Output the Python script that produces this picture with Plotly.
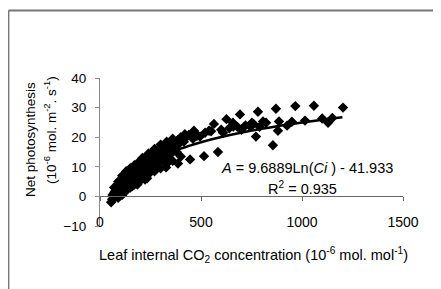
import plotly.graph_objects as go

# Observed data (Ci, A)
ci_obs = [55, 60, 62, 65, 68, 70, 72, 75, 78, 80, 82, 85, 88, 90, 92, 95, 98, 100, 103, 105,
          108, 110, 113, 115, 118, 120, 123, 125, 128, 130, 133, 135, 138, 140, 143, 145, 148, 150,
          153, 155, 158, 160, 163, 165, 168, 170, 173, 175, 178, 180, 183, 185, 188, 190, 193, 195,
          198, 200, 205, 210, 215, 218, 222, 226, 230, 235, 240, 245, 250, 255, 260, 265, 270, 275,
          280, 285, 290, 295, 300, 305, 310, 320, 325, 330, 335, 345, 350, 355, 365, 375, 385, 395,
          405, 415, 425, 440, 460, 470, 480,
          782, 871, 967, 1059, 1203, 693, 626, 564, 856, 772, 822, 886, 881, 926, 1015, 1129, 743,
          658, 752, 807, 540, 465, 431, 386, 356, 584, 515, 446, 609, 660, 495, 386, 327, 233, 302,
          272, 223, 520, 550, 600, 640, 680, 720, 760, 700, 790, 950, 1100, 1150,
          70, 90, 110, 130, 150, 170, 190, 210, 240, 270, 300, 330, 360, 400, 420,
          90, 110, 130, 150, 170, 190, 210, 240, 270, 300, 330, 360, 400,
          120, 160, 200, 250, 280, 315, 345, 380,
          140, 180, 225, 260, 290, 340, 370, 100, 135, 185]
a_obs = [-2, -1, 0.5, 0, 1, -0.5, 1.5, 0.5, 2, 1, 0, 2.5, 1.5, 3, 2, 1, 3.5, 2.5, 4, 3,
         1.5, 4.5, 3.5, 5, 4, 2.5, 5.5, 4.5, 6, 5, 3.5, 6.5, 5.5, 7, 6, 4.5, 7.5, 6.5,
         8, 7, 5, 8.5, 7.5, 9, 8, 6, 9.5, 8.5, 10, 9, 7, 10.5, 9.5, 11, 10, 8,
         11.5, 10.5, 12, 11, 9, 12.5, 11.5, 13, 12, 10, 13.5, 12.5, 14, 13, 11, 14.5, 13.5, 15,
         14, 12, 15.5, 14.5, 16, 15, 13, 16.5, 15.5, 17, 16, 14, 17.5, 16.5, 18, 17, 19, 18,
         19.5, 18.5, 20.5, 20.8, 19.5, 21.5, 20.5,
         28.6, 29.6, 30.5, 30.6, 30.0, 27.7, 26.1, 24.5, 17.3, 20.2, 24.9, 25.3, 22.2, 23.9, 25.6, 24.9, 23.6,
         24.9, 24.9, 25.3, 22.2, 22.2, 20.2, 18.9, 16.5, 15.0, 13.6, 12.5, 21.5, 23.6, 20.2, 11.1, 9.8, 6.1, 15.2,
         12.5, 5.7, 21.5, 22.0, 22.5, 23.0, 23.5, 24.0, 24.5, 22.5, 23.5, 25.2, 26.3, 26.5,
         3, 5, 7, 8.5, 9.5, 10.5, 11.5, 13, 14.5, 16, 17.5, 18.5, 19.5, 20, 21,
         -0.5, 0.5, 2, 3, 4, 5, 6, 7.5, 8.5, 9.5, 11, 12, 13.5,
         1.5, 3.5, 5.5, 9, 11, 12, 14.5, 15,
         4, 6.5, 8, 10, 11.5, 13, 15.5, 0.5, 2.5, 4]

# Trend line (logarithmic fit)
ci_fit = [75, 100, 150, 200, 300, 400, 500, 600, 800, 1000, 1200]
a_fit = [-0.1, 2.69, 6.61, 9.40, 13.33, 16.12, 18.28, 20.05, 22.83, 25.00, 26.76]

x_ticks = [0, 500, 1000, 1500]
y_ticks = [-10, 0, 10, 20, 30, 40]

FONT = "Liberation Sans, Arial, sans-serif"

fig = go.Figure()
fig.add_trace(go.Scatter(x=ci_obs, y=a_obs, mode="markers",
                         marker=dict(symbol="diamond", size=8, color="black", line=dict(width=0)),
                         showlegend=False))
fig.add_trace(go.Scatter(x=ci_fit, y=a_fit, mode="lines", line=dict(color="black", width=2.5),
                         line_shape="spline", showlegend=False))

OFF = 8  # page body margin
W, H = 441 - OFF, 289 - OFF
L, T = 100 - OFF, 78 - OFF
pw, ph = 303, 148
R, B = W - L - pw, H - T - ph


def px(x):
    """screen pixel x -> paper"""
    return (x - OFF - L) / pw


def py(y):
    """screen pixel y -> paper"""
    return (T + ph - (y - OFF)) / ph


def ann(text, x, y, size=14, angle=0):
    return dict(text=text, xref="paper", yref="paper", x=px(x), y=py(y),
                xanchor="center", yanchor="middle", textangle=angle,
                showarrow=False, font=dict(size=size))


fig.update_layout(
    width=W, height=H,
    margin=dict(l=L, r=R, t=T, b=B, autoexpand=False),
    paper_bgcolor="white", plot_bgcolor="white",
    font=dict(family=FONT, size=14, color="black"),
    xaxis=dict(range=[0, 1500], tickvals=x_ticks, showgrid=False, zeroline=False,
               showline=True, linecolor="#666", linewidth=1,
               anchor="free", position=0.2,
               ticks="outside", ticklen=4, tickcolor="#666",
               ticklabelstandoff=9, tickfont=dict(size=14)),
    yaxis=dict(range=[-10, 40], tickvals=y_ticks, showgrid=False, zeroline=False,
               showline=True, linecolor="#888", linewidth=1,
               ticks="outside", ticklen=4, tickcolor="#888",
               ticklabelstandoff=6, tickfont=dict(size=13.5)),
    annotations=[
        ann("<i>A</i> = 9.6889Ln(<i>Ci</i> ) - 41.933", 307, 168, 14.5),
        ann("R<sup>2</sup> = 0.935", 302, 188, 14.5),
        ann("Leaf internal CO<sub>2</sub> concentration (10<sup>-6</sup> mol. mol<sup>-1</sup>)", 253, 255, 14.5),
        ann("Net photosynthesis", 30, 140, 13.5, -90),
        ann("(10<sup>-6</sup> mol. m<sup>-2</sup>. s<sup>-1</sup>)", 50, 130, 13.5, -90),
    ],
    shapes=[
        dict(type="line", xref="paper", yref="paper", x0=px(8.5), x1=px(445), y0=py(10.5), y1=py(10.5),
             line=dict(color="#777", width=1.8)),
        dict(type="line", xref="paper", yref="paper", x0=px(8.5), x1=px(8.5), y0=py(10.5), y1=py(292),
             line=dict(color="#777", width=1.8)),
    ],
)

fig.write_html("out.html")
